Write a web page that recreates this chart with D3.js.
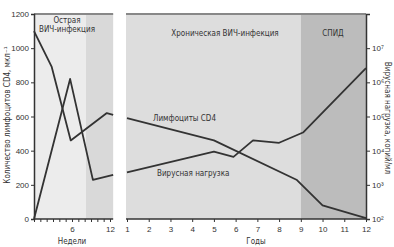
<!DOCTYPE html>
<html>
<head>
<meta charset="utf-8">
<script src="https://cdn.jsdelivr.net/npm/d3@7"></script>
<style>
  body { margin: 0; background: #fff; }
  svg { display: block; font-family: "Liberation Sans Narrow", "DejaVu Sans Condensed", "Roboto", sans-serif; }
  .axis text { font-size: 8px; fill: #333; }
  .axis path, .axis line { stroke: #333; }
</style>
</head>
<body>
<div id="chart"></div>
<script>
// Acute phase (weeks)
const weeksCd4 = [0, 2.8, 5.8, 11.5, 12.5];
const cd4Acute = [1100, 890, 460, 620, 610];
const weeksVl = [0, 5.7, 9.3, 12.5];
const vlAcute = [100, 1260000, 1400, 1950];

// Chronic phase (years)
const yearsCd4 = [1, 5, 8.8, 10, 12];
const cd4Chronic = [590, 460, 230, 80, 5];
const yearsVl = [1, 5, 5.9, 6.8, 8, 9.1, 12];
const vlChronic = [2300, 9300, 6600, 20000, 17000, 34000, 2600000];

// Ticks
const cd4Ticks = [0, 200, 400, 600, 800, 1000, 1200];
const vlTicks = [1e2, 1e3, 1e4, 1e5, 1e6, 1e7];
const vlLabels = ["10²", "10³", "10⁴", "10⁵", "10⁶", "10⁷"];
const weekTicks = d3.range(0, 13);
const weekLabels = [6, 12];
const yearTicks = d3.range(1, 13);

const width = 394;
const height = 247;
const yTop = 14, yBottom = 219;
const acuteEnd = 8.2;   // weeks, end of light zone
const aidsStart = 9;    // years

const svg = d3.select("#chart").append("svg")
    .attr("width", width)
    .attr("height", height);

const yL = d3.scaleLinear().domain([0, 1200]).range([yBottom, yTop]);
const yR = d3.scaleLog().domain([1e2, 1e8]).range([yBottom, yTop]);
const xW = d3.scaleLinear().domain([0, 12]).range([34, 110]);
const xY = d3.scaleLinear().domain([1, 12]).range([127, 366]);

// backgrounds
svg.append("rect")
    .attr("x", xW(0)).attr("y", yTop)
    .attr("width", xW(acuteEnd) - xW(0)).attr("height", yBottom - yTop)
    .attr("fill", "#ececec");
svg.append("rect")
    .attr("x", xW(acuteEnd)).attr("y", yTop)
    .attr("width", xW(12.5) - xW(acuteEnd)).attr("height", yBottom - yTop)
    .attr("fill", "#d9d9d9");
svg.append("rect")
    .attr("x", xY(1) - 1).attr("y", yTop)
    .attr("width", xY(aidsStart) - xY(1) + 1).attr("height", yBottom - yTop)
    .attr("fill", "#dddddd");
svg.append("rect")
    .attr("x", xY(aidsStart)).attr("y", yTop)
    .attr("width", xY(12) - xY(aidsStart)).attr("height", yBottom - yTop)
    .attr("fill", "#bcbcbc");

// top borders
svg.append("line")
    .attr("x1", xW(0)).attr("x2", xW(12.5))
    .attr("y1", yTop).attr("y2", yTop)
    .attr("stroke", "#888").attr("stroke-width", 2);
svg.append("line")
    .attr("x1", xY(1) - 1).attr("x2", xY(12))
    .attr("y1", yTop).attr("y2", yTop)
    .attr("stroke", "#888").attr("stroke-width", 2);

// lines
const lineW = (ys) => d3.line().x((d) => xW(d[0])).y((d) => ys(d[1]));
const lineY = (ys) => d3.line().x((d) => xY(d[0])).y((d) => ys(d[1]));

const g = svg.append("g")
    .attr("fill", "none")
    .attr("stroke", "#333")
    .attr("stroke-width", 1.8)
    .attr("stroke-linejoin", "round");

g.append("path").attr("d", lineW(yL)(d3.zip(weeksCd4, cd4Acute)));
g.append("path").attr("d", lineW(yR)(d3.zip(weeksVl, vlAcute)));
g.append("path").attr("d", lineY(yL)(d3.zip(yearsCd4, cd4Chronic)));
g.append("path").attr("d", lineY(yR)(d3.zip(yearsVl, vlChronic)));

// axes
svg.append("g")
    .attr("class", "axis")
    .attr("transform", `translate(${xW(0)},0)`)
    .call(d3.axisLeft(yL).tickValues(cd4Ticks).tickSize(3).tickPadding(2)
        .tickFormat(d3.format("d")))
    .call((a) => a.select(".domain").attr("stroke-width", 1.5));

svg.append("g")
    .attr("class", "axis")
    .attr("transform", `translate(${xY(12)},0)`)
    .call(d3.axisRight(yR).tickValues(vlTicks).tickSize(4).tickPadding(2)
        .tickFormat((d, i) => vlLabels[i]))
    .call((a) => a.select(".domain").attr("stroke-width", 1.5));

svg.append("g")
    .attr("class", "axis")
    .attr("transform", `translate(0,${yBottom})`)
    .call(d3.axisBottom(xW).tickValues(weekTicks).tickSize(3).tickPadding(4)
        .tickFormat((d) => (weekLabels.includes(d) ? d : "")))
    .call((a) => a.select(".domain").attr("d", `M${xW(0)},0H${xW(12.5)}`).attr("stroke-width", 1.5));

svg.append("g")
    .attr("class", "axis")
    .attr("transform", `translate(0,${yBottom})`)
    .call(d3.axisBottom(xY).tickValues(yearTicks).tickSize(3).tickPadding(4)
        .tickFormat(d3.format("d")))
    .call((a) => a.select(".domain").attr("d", `M${xY(1) - 1},0H${xY(12)}`).attr("stroke-width", 1.5));

// labels
const label = (x, y, text, opts = {}) =>
    svg.append("text")
        .attr("x", x).attr("y", y)
        .attr("text-anchor", opts.anchor || "middle")
        .attr("font-size", opts.size || 8)
        .attr("fill", "#333")
        .attr("transform", opts.rotate ? `rotate(${opts.rotate},${x},${y})` : null)
        .text(text);

label(67, 23, "Острая");
label(67, 32, "ВИЧ-инфекция");
label(225, 36, "Хроническая ВИЧ-инфекция");
label(333, 36, "СПИД");
label(153, 121, "Лимфоциты CD4", { anchor: "start" });
label(157, 176, "Вирусная нагрузка", { anchor: "start" });
label(xW(6), 244, "Недели");
label(256, 244, "Годы");
label(10, 115, "Количество лимфоцитов CD4, мкл⁻¹", { rotate: -90 });
label(385, 118, "Вирусная нагрузка, копий/мл", { rotate: 90 });
</script>
</body>
</html>
